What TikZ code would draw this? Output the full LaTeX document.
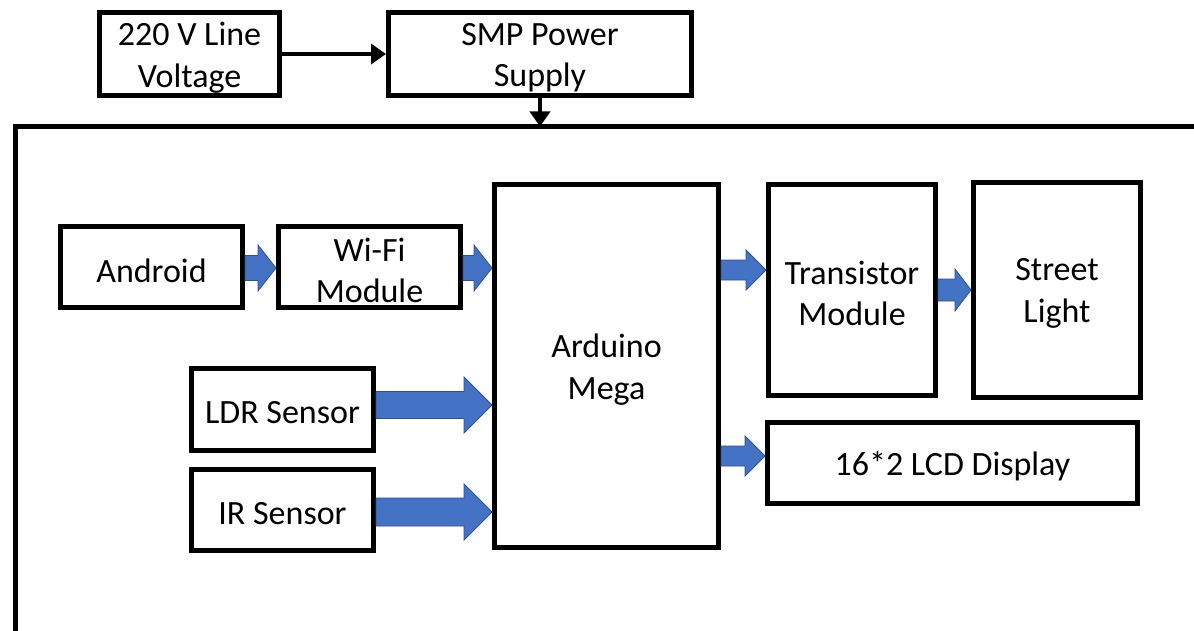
\documentclass[tikz,border=0pt]{standalone}
\usepackage{fontspec}
\setmainfont{Carlito}
\usetikzlibrary{arrows.meta,calc}
\definecolor{arrblue}{HTML}{4472C4}
\definecolor{arredge}{HTML}{2F528F}
\tikzset{
  blk/.style={draw=black, line width=5pt, fill=white, inner sep=0pt},
  lbl/.style={align=center, inner sep=0pt, yshift=-3.5pt,
    font=\fontsize{34}{41.5}\selectfont},
  feed/.style={draw=black, line width=4pt, -{Triangle[length=15pt,width=20pt]}},
}
% tail node anchor, tip node anchor, y, shaft half width, head half width, head length
\newcommand\blockarr[6]{%
  \path[fill=arrblue, draw=arredge, line width=0.8pt]
    let \p1=(#1 |- 0,#3), \p2=(#2 |- 0,#3) in
    (\x1,\y1+#4) -- (\x2-#6,\y1+#4) -- (\x2-#6,\y1+#5) -- (\x2,\y1)
    -- (\x2-#6,\y1-#5) -- (\x2-#6,\y1-#4) -- (\x1,\y1-#4) -- cycle;}
\begin{document}
\begin{tikzpicture}[x=1pt,y=-1pt]
\useasboundingbox (0,0) rectangle (1194,631);
\fill[white] (0,0) rectangle (1194,631);
\begin{scope}
  \clip (0,0) rectangle (1194,631);
  \node[draw=black, line width=5pt, outer sep=0pt, inner sep=0pt,
        minimum width=1210pt, minimum height=530pt, anchor=north west] (board) at (15.5,126.5) {};
\end{scope}
\node[blk, minimum width=180pt, minimum height=83pt, label={[lbl]center:{220 V Line\\Voltage}}] (volt) at (189.5,54) {};
\node[blk, minimum width=303pt, minimum height=83pt, label={[lbl]center:{SMP Power\\Supply}}] (smp) at (540,54) {};
\node[blk, minimum width=182pt, minimum height=81pt, label={[lbl]center:{Android}}] (andr) at (151.5,267) {};
\node[blk, minimum width=182pt, minimum height=81pt, label={[lbl]center:{Wi-Fi\\Module}}] (wifi) at (369.5,267) {};
\node[blk, minimum width=224pt, minimum height=363pt, label={[lbl]center:{Arduino\\Mega}}] (ard) at (606.5,366) {};
\node[blk, minimum width=182pt, minimum height=82pt, label={[lbl]center:{LDR Sensor}}] (ldr) at (282.5,409.5) {};
\node[blk, minimum width=182pt, minimum height=81pt, label={[lbl]center:{IR Sensor}}] (ir) at (282.5,510) {};
\node[blk, minimum width=167pt, minimum height=211pt, label={[lbl]center:{Transistor\\Module}}] (trans) at (852,290) {};
\node[blk, minimum width=167pt, minimum height=215pt, label={[lbl]center:{Street\\Light}}] (street) at (1057,290) {};
\node[blk, minimum width=370pt, minimum height=81pt, label={[lbl]center:{16*2 LCD Display}}] (lcd) at (952.5,463) {};
\draw[feed] (volt.east) -- (smp.west);
\draw[feed] (smp.south) -- (smp.south |- board.north);
\blockarr{andr.east}{wifi.west}{268}{12.5pt}{23pt}{18pt}
\blockarr{wifi.east}{ard.west}{268}{12.5pt}{23pt}{18pt}
\blockarr{ldr.east}{ard.west}{405}{13.5pt}{28pt}{28pt}
\blockarr{ir.east}{ard.west}{512}{14pt}{28pt}{28pt}
\blockarr{ard.east}{trans.west}{270}{10pt}{20pt}{20pt}
\blockarr{trans.east}{street.west}{290}{11pt}{21pt}{16pt}
\blockarr{ard.east}{lcd.west}{456}{10pt}{20pt}{20pt}
\end{tikzpicture}
\end{document}
